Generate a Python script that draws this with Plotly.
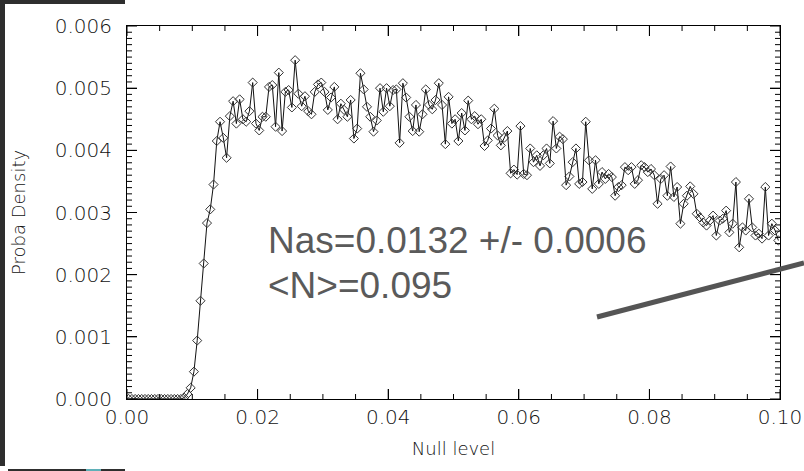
import numpy as np
import plotly.graph_objects as go

# Histogram bins of the null level (bin width 0.0005, centres)
bin_width = 0.0005
n_bins = 200
null_level = [round(bin_width * (i + 0.5), 5) for i in range(n_bins)]

# Probability density, in units of 1e-3
density_ramp = [0, 0, 0, 0, 0, 0, 0, 0, 0, 0, 0, 0, 0, 0, 0, 0, 0,
                0.02, 0.08, 0.18, 0.44, 0.94, 1.58, 2.18, 2.83, 3.05]
density_a = [3.45, 4.15, 4.46, 4.20, 3.88, 4.55, 4.79, 4.43, 4.82, 4.50,
             4.46, 4.63, 5.09, 4.43, 4.32, 4.54, 4.54, 5.02, 5.05, 4.38,
             5.25, 4.31, 4.94, 4.97, 4.69, 5.45, 4.91, 4.71, 4.87, 4.63,
             4.58, 4.94, 5.06, 5.09, 4.94, 4.65, 4.85, 5.02, 4.50]
density_b = [4.75, 4.65, 4.54, 4.81, 4.19, 4.35, 5.24, 4.98, 4.70, 4.54,
             4.30, 4.48, 5.00, 4.62, 5.00, 4.71, 4.97, 4.98, 4.12, 5.08,
             4.85, 4.54, 4.31, 4.73, 4.30, 4.58, 4.98, 4.73, 4.66, 4.81,
             5.08, 4.73, 4.10, 4.86, 4.43, 4.50, 4.15, 4.60, 4.32, 4.80,
             4.50, 4.55, 4.42, 4.50, 4.07, 4.16, 4.35, 4.67, 4.24, 4.08,
             4.20, 4.31, 3.63, 3.69, 3.61, 4.39, 3.62, 3.60, 4.03, 3.81,
             3.92, 3.75, 3.92, 4.03, 3.79, 4.47, 4.03, 4.22, 4.18, 3.44,
             3.58, 3.81, 4.03, 3.46, 3.49, 4.46]
density_c = [3.84, 3.38, 3.84, 3.46, 3.65, 3.54, 3.62, 3.57, 3.27, 3.41,
             3.44, 3.73, 3.68, 3.73, 3.46, 3.52, 3.76, 3.73, 3.65, 3.70,
             3.60, 3.14, 3.54, 3.60, 3.27, 3.74, 3.25, 3.41, 2.82, 3.14,
             3.27, 3.42, 3.30, 2.98, 2.92, 2.84, 2.79, 2.87, 2.95, 2.63,
             2.87, 2.90, 3.03, 2.68, 2.82, 3.49, 2.44, 2.76, 2.71, 3.22,
             2.76, 2.63, 2.66, 2.58, 3.41, 2.63, 2.82, 2.71, 2.55]
density_e3 = density_ramp + density_a + density_b + density_c
proba_density = [v * 1e-3 for v in density_e3[:n_bins]]
x_vals = null_level[:len(proba_density)]

x_tickvals = [0.00, 0.02, 0.04, 0.06, 0.08, 0.10]
x_ticktext = ["0.00", "0.02", "0.04", "0.06", "0.08", "0.10"]
y_tickvals = [0.000, 0.001, 0.002, 0.003, 0.004, 0.005, 0.006]
y_ticktext = ["0.000", "0.001", "0.002", "0.003", "0.004", "0.005", "0.006"]
x_minor_step = 0.005
y_minor_step = 0.0001

annot_line1 = "Nas=0.0132 +/- 0.0006"
annot_line2 = "<N>=0.095"

W, H = 804, 471
L, R, T, B = 127, 24, 26, 72
pw, ph = W - L - R, H - T - B
MAJ, MIN = 10, 5


def px(x):
    return (x - L) / pw


def py(y):
    return (H - B - y) / ph


fig = go.Figure()
fig.add_trace(go.Scatter(
    x=x_vals, y=proba_density, mode="lines+markers",
    line=dict(color="#111111", width=1),
    marker=dict(symbol="diamond-open", size=7, color="#333333",
                line=dict(width=1, color="#333333")),
    showlegend=False, hoverinfo="skip",
))

tick_font = dict(family="DejaVu Sans", size=20, color="#111111", weight=300)
title_font = dict(family="DejaVu Sans", size=18, color="#111111", weight=300)

axis_common = dict(showgrid=False, zeroline=False, showline=True,
                   linecolor="black", linewidth=1, ticks="inside",
                   ticklen=MAJ, tickwidth=1, tickcolor="black")

fig.update_layout(
    xaxis=dict(
        range=[0, 0.1], tickmode="array", tickvals=x_tickvals,
        ticktext=x_ticktext, mirror="allticks", tickfont=tick_font,
        title=dict(text="Null level", font=title_font, standoff=14),
        **axis_common,
    ),
    yaxis=dict(
        range=[0, 0.006], tickmode="array", tickvals=y_tickvals,
        ticktext=y_ticktext, mirror="allticks", tickfont=tick_font,
        ticklabelstandoff=10,
        title=dict(text="Proba Density", font=title_font, standoff=24),
        **axis_common,
    ),
)

tick_line = dict(color="black", width=1)
shapes = []
# axis ticks (major and minor) on all four sides, drawn at the tick values
x_minor = [round(i * x_minor_step, 4) for i in range(int(round(0.1 / x_minor_step)) + 1)]
y_minor = [round(i * y_minor_step, 5) for i in range(int(round(0.006 / y_minor_step)) + 1)]
for t in x_minor:
    ln = MAJ if any(abs(t - m) < 1e-9 for m in x_tickvals) else MIN
    shapes.append(dict(type="line", xref="x", yref="paper", x0=t, x1=t,
                       y0=0, y1=ln / ph, line=tick_line, layer="above"))
    shapes.append(dict(type="line", xref="x", yref="paper", x0=t, x1=t,
                       y0=1 - ln / ph, y1=1, line=tick_line, layer="above"))
for t in y_minor:
    ln = MAJ if any(abs(t - m) < 1e-9 for m in y_tickvals) else MIN
    shapes.append(dict(type="line", xref="paper", yref="y", x0=0, x1=ln / pw,
                       y0=t, y1=t, line=tick_line, layer="above"))
    shapes.append(dict(type="line", xref="paper", yref="y", x0=1 - ln / pw,
                       x1=1, y0=t, y1=t, line=tick_line, layer="above"))

shapes += [
    # dark frame pieces from the original screenshot
    dict(type="rect", xref="paper", yref="paper", x0=px(0), x1=px(5),
         y0=py(466), y1=py(0), fillcolor="#2e2e2e", line_width=0),
    dict(type="rect", xref="paper", yref="paper", x0=px(0), x1=px(125),
         y0=py(4), y1=py(0), fillcolor="#2e2e2e", line_width=0),
    dict(type="rect", xref="paper", yref="paper", x0=px(8), x1=px(125),
         y0=py(471), y1=py(469), fillcolor="#2e2e2e", line_width=0),
    dict(type="rect", xref="paper", yref="paper", x0=px(86), x1=px(101),
         y0=py(471), y1=py(469), fillcolor="#5fb0b8", line_width=0),
    # thick pointer line
    dict(type="line", xref="paper", yref="paper", x0=px(597), y0=py(317),
         x1=px(804), y1=py(263), line=dict(color="#555555", width=5),
         layer="above"),
]

annotations = [
    dict(text=annot_line1, xref="paper", yref="paper", x=px(266), y=py(241),
         xanchor="left", yanchor="middle", showarrow=False,
         font=dict(family="Liberation Sans", size=37, color="#5a5a5a")),
    dict(text=annot_line2, xref="paper", yref="paper", x=px(266), y=py(285),
         xanchor="left", yanchor="middle", showarrow=False,
         font=dict(family="Liberation Sans", size=37, color="#5a5a5a")),
]

fig.update_layout(
    template="none",
    width=W, height=H, margin=dict(l=L, r=R, t=T, b=B, autoexpand=False),
    paper_bgcolor="#ffffff", plot_bgcolor="#ffffff",
    shapes=shapes, annotations=annotations,
)

fig.write_html(
    "out.html",
    config={"displayModeBar": False},
    post_script="document.body.style.margin='0';document.body.style.overflow='hidden';",
)
